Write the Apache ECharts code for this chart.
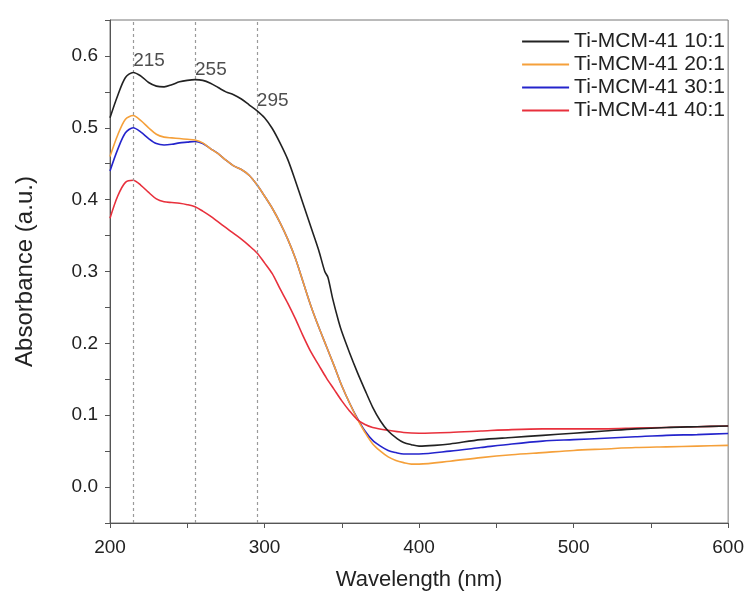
<!DOCTYPE html>
<html>
<head>
<meta charset="utf-8">
<script src="https://cdn.jsdelivr.net/npm/echarts@6/dist/echarts.min.js"></script>
<style>html,body{margin:0;padding:0;background:#fff}#c{width:747px;height:604px}</style>
</head>
<body>
<div id="c"></div>
<script>
const seriesNames = ['Ti-MCM-41 10:1', 'Ti-MCM-41 20:1', 'Ti-MCM-41 30:1', 'Ti-MCM-41 40:1'];
const xTicks = [200, 300, 400, 500, 600];
const yTicks = [0.0, 0.1, 0.2, 0.3, 0.4, 0.5, 0.6];

const wl10 = [200,205,210,215,220,225,230,235,240,245,250,255,260,265,270,275,280,285,290,295,300,305,310,315,320,325,330,335,339,341,344,348,350,355,360,365,370,375,380,386,390,395,400,410,420,440,460,480,500,520,540,560,580,600];
const abs10 = [0.514,0.545,0.570,0.577,0.572,0.563,0.558,0.557,0.560,0.564,0.566,0.567,0.566,0.562,0.556,0.550,0.546,0.540,0.532,0.524,0.514,0.499,0.479,0.456,0.426,0.394,0.362,0.330,0.300,0.292,0.263,0.230,0.216,0.187,0.160,0.135,0.111,0.092,0.078,0.067,0.062,0.059,0.057,0.058,0.060,0.066,0.069,0.072,0.075,0.078,0.081,0.083,0.084,0.085];

const wl20 = [200,205,210,215,220,225,230,235,240,245,250,255,260,265,270,275,280,285,290,295,300,305,310,315,320,325,330,335,340,345,350,355,360,365,370,375,380,385,390,395,400,420,440,460,480,500,520,540,560,580,600];
const abs20 = [0.460,0.490,0.512,0.517,0.510,0.500,0.491,0.487,0.486,0.485,0.484,0.483,0.479,0.471,0.464,0.455,0.447,0.442,0.434,0.421,0.405,0.388,0.368,0.345,0.318,0.285,0.252,0.223,0.196,0.169,0.141,0.117,0.095,0.076,0.060,0.050,0.042,0.037,0.034,0.032,0.032,0.036,0.041,0.045,0.048,0.051,0.053,0.055,0.056,0.057,0.058];

const wl30 = [200,205,210,215,220,225,230,235,240,245,250,255,260,265,270,275,280,285,290,295,300,305,310,315,320,325,330,335,340,345,350,355,360,365,370,375,380,385,390,395,400,420,440,460,480,500,520,540,560,580,600];
const abs30 = [0.440,0.470,0.493,0.500,0.494,0.485,0.478,0.476,0.477,0.479,0.480,0.481,0.478,0.471,0.464,0.455,0.447,0.442,0.434,0.421,0.405,0.388,0.368,0.345,0.318,0.285,0.252,0.223,0.196,0.169,0.141,0.117,0.096,0.078,0.065,0.057,0.051,0.048,0.046,0.046,0.046,0.050,0.055,0.060,0.064,0.066,0.068,0.070,0.072,0.073,0.0745];

const wl40 = [200,205,210,215,220,225,230,235,240,245,250,255,260,265,270,275,280,285,290,295,300,305,310,315,320,325,330,335,340,345,350,355,360,365,370,380,390,400,420,440,460,480,500,520,540,560,580,600];
const abs40 = [0.374,0.405,0.424,0.427,0.420,0.410,0.401,0.397,0.396,0.395,0.393,0.390,0.384,0.377,0.369,0.361,0.353,0.345,0.336,0.326,0.312,0.297,0.276,0.256,0.234,0.210,0.188,0.170,0.152,0.136,0.120,0.106,0.094,0.087,0.083,0.079,0.076,0.075,0.076,0.078,0.080,0.081,0.081,0.081,0.082,0.083,0.084,0.085];

const peakLines = [215, 255, 295];
const peakLabelY = [0.593, 0.581, 0.537];

const colors = ['#222222', '#f5a03a', '#2424cc', '#e8303c'];

function pairs(xs, ys) { return xs.map((x, i) => [x, ys[i]]); }

const chart = echarts.init(document.getElementById('c'), null, {renderer: 'canvas'});
const fontFam = 'Liberation Sans, Arial, sans-serif';
const lineData = [pairs(wl10, abs10), pairs(wl20, abs20), pairs(wl30, abs30), pairs(wl40, abs40)];

const series = lineData.map((d, i) => ({
  name: seriesNames[i],
  type: 'line',
  data: d,
  smooth: 0.3,
  symbol: 'none',
  lineStyle: {color: colors[i], width: 1.6},
  itemStyle: {color: colors[i]},
  z: 5 - i + (i === 3 ? 2 : 0)
}));
series[0].markLine = {
  silent: true,
  symbol: 'none',
  label: {show: false},
  lineStyle: {color: '#9a9a9a', type: [3, 3], width: 1.2},
  data: peakLines.map(v => ({xAxis: v}))
};
series.push({
  type: 'scatter',
  name: 'peaks',
  data: peakLines.map((v, i) => [v, peakLabelY[i]]),
  symbolSize: 0,
  silent: true,
  label: {
    show: true,
    position: 'right',
    distance: 0,
    formatter: p => String(peakLines[p.dataIndex]),
    color: '#222',
    fontSize: 19,
    fontFamily: fontFam
  }
});

chart.setOption({
  animation: false,
  backgroundColor: '#fff',
  grid: {left: 110, right: 14, top: 20, bottom: 81, show: true, borderColor: '#777', borderWidth: 1},
  legend: {
    data: seriesNames,
    orient: 'vertical',
    right: 17,
    top: 26,
    icon: 'rect',
    itemWidth: 47,
    itemHeight: 2,
    itemGap: 2,
    textStyle: {fontSize: 21, color: '#222', fontFamily: fontFam, padding: [0, 0, 0, 0]}
  },
  xAxis: {
    type: 'value',
    min: 200, max: 600, interval: 50,
    name: 'Wavelength (nm)',
    nameLocation: 'middle',
    nameGap: 46,
    nameTextStyle: {fontSize: 22, color: '#222', fontFamily: fontFam},
    axisLine: {show: true, onZero: false, lineStyle: {color: '#555', width: 1}},
    axisTick: {show: true, length: 5, lineStyle: {color: '#555'}},
    axisLabel: {
      fontSize: 19, color: '#222', fontFamily: fontFam, margin: 15,
      formatter: v => xTicks.includes(v) ? String(v) : ''
    },
    splitLine: {show: false}
  },
  yAxis: {
    type: 'value',
    min: -0.05, max: 0.65, interval: 0.05,
    name: 'Absorbance (a.u.)',
    nameLocation: 'middle',
    nameGap: 73,
    nameTextStyle: {fontSize: 24, color: '#222', fontFamily: fontFam},
    axisLine: {show: true, onZero: false, lineStyle: {color: '#555', width: 1}},
    axisTick: {show: true, length: 5, lineStyle: {color: '#555'}},
    axisLabel: {
      fontSize: 19, color: '#222', fontFamily: fontFam, margin: 12,
      formatter: v => {
        const r = Math.round(v * 100) / 100;
        return yTicks.some(t => Math.abs(t - r) < 1e-6) ? r.toFixed(1) : '';
      }
    },
    splitLine: {show: false}
  },
  series: series
});
</script>
</body>
</html>
